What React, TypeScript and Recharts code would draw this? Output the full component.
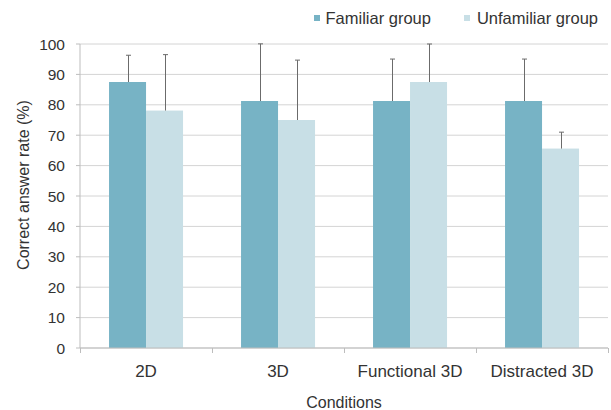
import { Bar, BarChart, CartesianGrid, Label, Legend, XAxis, YAxis } from "recharts";

const conditions = ["2D", "3D", "Functional 3D", "Distracted 3D"];
const familiar = [87.5, 81.25, 81.25, 81.25];
const familiarErr = [8.8, 18.8, 13.8, 13.8];
const unfamiliar = [78.1, 75, 87.5, 65.6];
const unfamiliarErr = [18.4, 19.7, 12.5, 5.4];
const yTicks = [0, 10, 20, 30, 40, 50, 60, 70, 80, 90, 100];

const FAM = "#77b3c5";
const UNFAM = "#c8dfe6";

const data = conditions.map((name, i) => ({
  name,
  familiar: familiar[i],
  familiarErr: familiarErr[i],
  unfamiliar: unfamiliar[i],
  unfamiliarErr: unfamiliarErr[i],
}));

// bar with an upward-only error whisker, scaled from the bar's own height
function barWithError(errKey: string, valKey: string) {
  return (props: any) => {
    const { x, y, width, height, fill, payload } = props;
    const v = payload[valKey];
    const e = payload[errKey];
    const top = y - (e / v) * height;
    const cx = Math.round(x + width / 2) + 0.5;
    return (
      <g>
        <rect x={x} y={y} width={width} height={height} fill={fill} />
        <line x1={cx} y1={y} x2={cx} y2={top} stroke="#6b6b6b" strokeWidth={1} />
        <line x1={cx - 2.5} y1={top} x2={cx + 2.5} y2={top} stroke="#6b6b6b" strokeWidth={1} />
      </g>
    );
  };
}

const font = "'Liberation Sans', Arial, sans-serif";

// category label plus tick marks on the band edges (Excel style)
function CatTick(props: any) {
  const { x, y, payload, index } = props;
  const half = payload.offset || 0;
  const left = Math.round(x - half) + 0.5;
  const right = Math.round(x + half) + 0.5;
  return (
    <g>
      <line x1={left} y1={y - 10} x2={left} y2={y - 5} stroke="#bdbdbd" />
      {index === conditions.length - 1 && (
        <line x1={right} y1={y - 10} x2={right} y2={y - 5} stroke="#bdbdbd" />
      )}
      <text x={x} y={y + 7} dy="0.71em" textAnchor="middle" fill="#333" fontSize={17} fontFamily={font}>
        {payload.value}
      </text>
    </g>
  );
}

function LegendBox() {
  const items = [
    { label: "Familiar group", color: FAM, gap: 5, after: 33 },
    { label: "Unfamiliar group", color: UNFAM, gap: 7, after: 0 },
  ];
  return (
    <div style={{ display: "flex", alignItems: "center", height: 20, fontSize: 16.5, fontFamily: font, color: "#333" }}>
      {items.map((it) => (
        <div key={it.label} style={{ display: "flex", alignItems: "center", marginRight: it.after }}>
          <span style={{ width: 6, height: 6, background: it.color, marginRight: it.gap }} />
          <span>{it.label}</span>
        </div>
      ))}
    </div>
  );
}

function YLabel(props: any) {
  const vb = props.viewBox;
  const x = 23;
  const y = vb.y + vb.height / 2 - 11;
  return (
    <text
      x={x}
      y={y}
      transform={`rotate(-90 ${x} ${y})`}
      textAnchor="middle"
      dominantBaseline="central"
      fill="#333"
      fontSize={16}
      fontFamily={font}
    >
      Correct answer rate (%)
    </text>
  );
}

export default function App() {
  return (
    <div style={{ position: "absolute", left: 0, top: 0, background: "#fff", fontFamily: font }}>
      <BarChart
        width={611}
        height={410}
        data={data}
        margin={{ top: 24, right: 3, left: 0, bottom: 0 }}
        barCategoryGap="22%"
        barGap={0}
      >
        <CartesianGrid vertical={false} stroke="#d4d4d4" />
        <XAxis
          dataKey="name"
          height={62}
          axisLine={{ stroke: "#bdbdbd" }}
          tickLine={false}
          tickSize={0}
          tickMargin={10}
          interval={0}
          tick={<CatTick />}
        >
          <Label value="Conditions" position="insideBottom" offset={2} style={{ fill: "#333", fontSize: 16, fontFamily: font }} />
        </XAxis>
        <YAxis
          width={80}
          domain={[0, 100]}
          ticks={yTicks}
          axisLine={{ stroke: "#bdbdbd" }}
          tickLine={{ stroke: "#bdbdbd" }}
          tickSize={4}
          tickMargin={11}
          tick={{ fill: "#333", fontSize: 15.5, fontFamily: font }}
        >
          <Label content={<YLabel />} />
        </YAxis>
        <Legend
          verticalAlign="top"
          align="right"
          wrapperStyle={{ top: 8, right: 13, width: "auto" }}
          content={() => <LegendBox />}
        />
        <Bar
          dataKey="familiar"
          name="Familiar group"
          fill={FAM}
          isAnimationActive={false}
          shape={barWithError("familiarErr", "familiar")}
        />
        <Bar
          dataKey="unfamiliar"
          name="Unfamiliar group"
          fill={UNFAM}
          isAnimationActive={false}
          shape={barWithError("unfamiliarErr", "unfamiliar")}
        />
      </BarChart>
    </div>
  );
}
